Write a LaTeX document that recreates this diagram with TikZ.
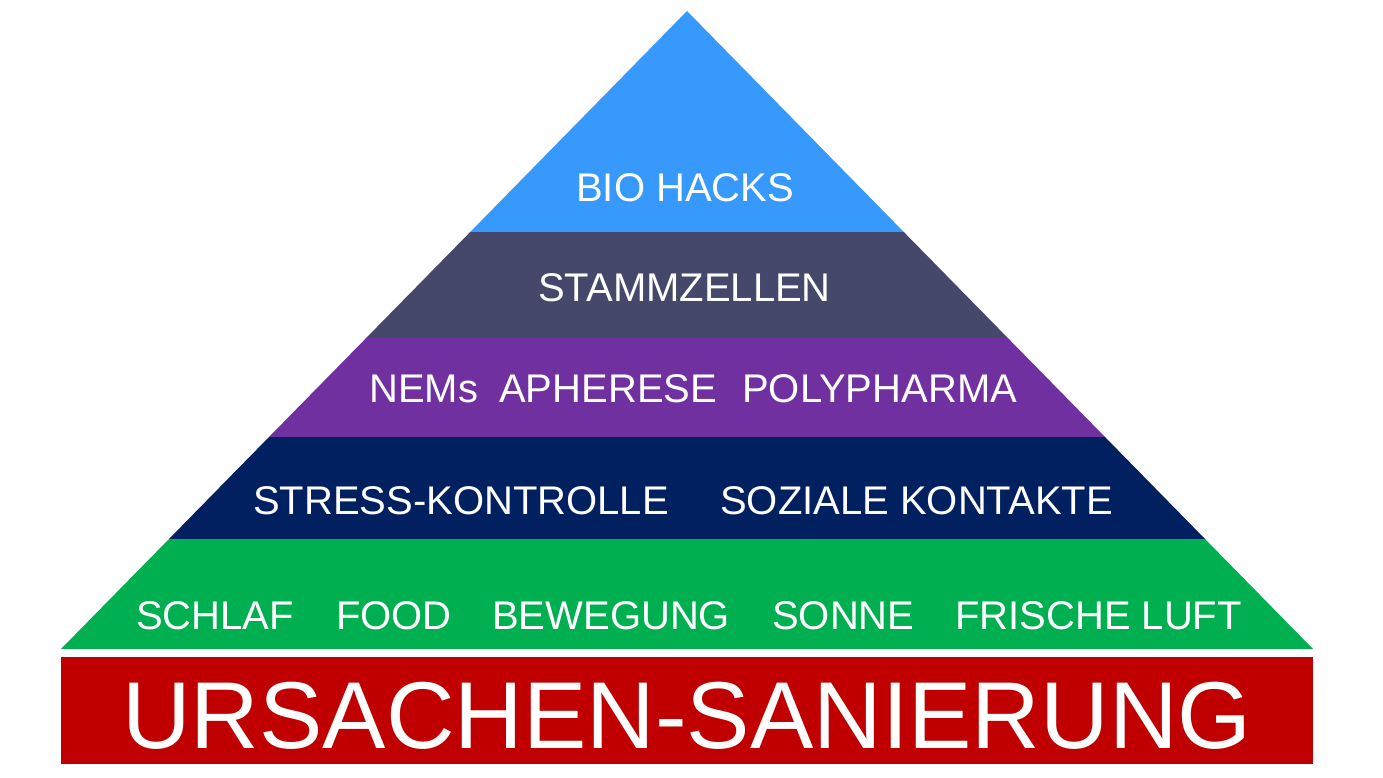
\documentclass[tikz,border=0pt]{standalone}
\usepackage{fontspec}
\setmainfont{Liberation Sans}
\definecolor{cblue}{HTML}{3899FC}
\definecolor{cslate}{HTML}{45476B}
\definecolor{cpurple}{HTML}{7030A0}
\definecolor{cnavy}{HTML}{002060}
\definecolor{cgreen}{HTML}{00B050}
\definecolor{cred}{HTML}{C00000}
\begin{document}
\begin{tikzpicture}[x=1pt,y=-1pt,
  lbl/.style={text=white,inner sep=0pt,anchor=base west,font=\fontsize{40}{48}\selectfont},
  big/.style={text=white,inner sep=0pt,anchor=base,font=\fontsize{95}{110}\selectfont}]
\useasboundingbox (0,0) rectangle (1383,778);
\fill[white] (0,0) rectangle (1383,778);
% layers
\fill[cblue]   (687,11) -- (903.8,232) -- (470.2,232) -- cycle;
\fill[cslate]  (470.2,232) -- (903.8,232) -- (1007.8,338) -- (366.2,338) -- cycle;
\fill[cpurple] (366.2,338) -- (1007.8,338) -- (1105,437) -- (269,437) -- cycle;
\fill[cnavy]   (269,437) -- (1105,437) -- (1205,539) -- (169,539) -- cycle;
\fill[cgreen]  (169,539) -- (1205,539) -- (1313,649) -- (61,649) -- cycle;
\fill[cred]    (61,657) rectangle (1313,764);
% texts
\node[lbl] (bio) at (576,201) {BIO HACKS};
\node[lbl] (stamm) at (538,301) {STAMMZELLEN};
\node[lbl] (nems) at (369,402) {NEMs};
\node[lbl] (aph) at (499,402) {APHERESE};
\node[lbl] (poly) at (742,402) {POLYPHARMA};
\node[lbl] (stress) at (253,514) {STRESS-KONTROLLE};
\node[lbl] (sozial) at (720,514) {SOZIALE KONTAKTE};
\node[lbl] (schlaf) at (136,629) {SCHLAF};
\node[lbl] (food) at (336,629) {FOOD};
\node[lbl] (beweg) at (492,629) {BEWEGUNG};
\node[lbl] (sonne) at (772,629) {SONNE};
\node[lbl] (luft) at (955,629) {FRISCHE LUFT};
\node[big] (urs) at (687,748) {URSACHEN-SANIERUNG};
\end{tikzpicture}
\end{document}
